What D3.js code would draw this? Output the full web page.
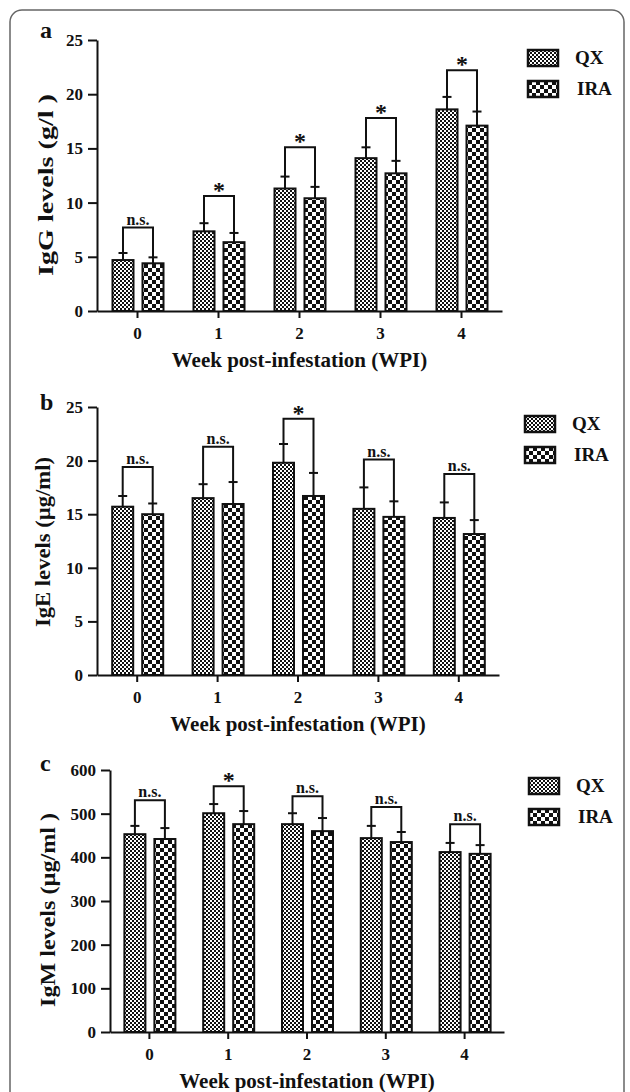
<!DOCTYPE html>
<html>
<head>
    <title>Immunoglobulin levels, QX vs IRA</title>
    <style>
        body { margin: 0; background: #fff; }
        svg text { font-family: "Liberation Serif", "Times New Roman", serif; font-weight: bold; fill: #111; }
        .axis path, .axis line { stroke: #111; stroke-width: 2; }
        .axis text { font-size: 17px; }
    </style>
</head>
<body>
    <div id="chart"></div>

    <script src="https://d3js.org/d3.v7.min.js"></script>
    <script>
        // weeks and groups
        var weeks = ["0", "1", "2", "3", "4"];
        var groups = ["QX", "IRA"];

        // a: IgG (g/l)
        var iggQX = [4.7, 7.35, 11.3, 14.1, 18.6];
        var iggQXsd = [0.65, 0.75, 1.1, 1.0, 1.15];
        var iggIRA = [4.4, 6.35, 10.4, 12.7, 17.1];
        var iggIRAsd = [0.55, 0.85, 1.05, 1.15, 1.3];
        var iggSig = ["n.s.", "*", "*", "*", "*"];
        var iggBracket = [7.7, 10.6, 15.1, 17.8, 22.2];
        var iggTicks = [0, 5, 10, 15, 20, 25];

        // b: IgE (µg/ml)
        var igeQX = [15.7, 16.5, 19.8, 15.5, 14.65];
        var igeQXsd = [1.0, 1.3, 1.75, 2.0, 1.45];
        var igeIRA = [15.0, 15.95, 16.7, 14.75, 13.15];
        var igeIRAsd = [1.0, 2.05, 2.15, 1.45, 1.3];
        var igeSig = ["n.s.", "n.s.", "*", "n.s.", "n.s."];
        var igeBracket = [19.4, 21.3, 23.9, 20.1, 18.75];
        var igeTicks = [0, 5, 10, 15, 20, 25];

        // c: IgM (µg/ml)
        var igmQX = [453, 501, 476, 444, 412];
        var igmQXsd = [19, 21, 25, 28, 21];
        var igmIRA = [442, 476, 460, 435, 408];
        var igmIRAsd = [25, 30, 30, 23, 20];
        var igmSig = ["n.s.", "*", "n.s.", "n.s.", "n.s."];
        var igmBracket = [531, 563, 540, 515, 476];
        var igmTicks = [0, 100, 200, 300, 400, 500, 600];

        var width = 630, height = 1092;

        var svg = d3.select("#chart").append("svg")
            .attr("width", width)
            .attr("height", height);

        // fill patterns
        var defs = svg.append("defs");
        var fine = defs.append("pattern")
            .attr("id", "pat-QX")
            .attr("patternUnits", "userSpaceOnUse")
            .attr("width", 4).attr("height", 4);
        fine.append("rect").attr("width", 4).attr("height", 4).attr("fill", "#fff");
        fine.append("rect").attr("width", 2).attr("height", 2).attr("fill", "#111");
        fine.append("rect").attr("x", 2).attr("y", 2).attr("width", 2).attr("height", 2).attr("fill", "#111");

        var coarse = defs.append("pattern")
            .attr("id", "pat-IRA")
            .attr("patternUnits", "userSpaceOnUse")
            .attr("width", 8).attr("height", 8);
        coarse.append("rect").attr("width", 8).attr("height", 8).attr("fill", "#fff");
        coarse.append("rect").attr("width", 4).attr("height", 4).attr("fill", "#111");
        coarse.append("rect").attr("x", 4).attr("y", 4).attr("width", 4).attr("height", 4).attr("fill", "#111");

        // frame
        svg.append("rect")
            .attr("x", 10).attr("y", 10)
            .attr("width", 614).attr("height", 1110)
            .attr("rx", 12)
            .attr("fill", "none")
            .attr("stroke", "#666")
            .attr("stroke-width", 1.5);

        var panels = [
            { letter: "a", title: "IgG levels (g/l )", qx: iggQX, qxsd: iggQXsd, ira: iggIRA, irasd: iggIRAsd,
              sig: iggSig, bracket: iggBracket, ticks: iggTicks,
              left: 97, right: 502, top: 40, bottom: 311, titleX: 53, titleY: 185, titleLen: 182,
              letterY: 38, legendX: 528, legendY: 50 },
            { letter: "b", title: "IgE levels (\u00b5g/ml)", qx: igeQX, qxsd: igeQXsd, ira: igeIRA, irasd: igeIRAsd,
              sig: igeSig, bracket: igeBracket, ticks: igeTicks,
              left: 97, right: 499, top: 407, bottom: 675, titleX: 50, titleY: 542, titleLen: 170,
              letterY: 410, legendX: 525, legendY: 416 },
            { letter: "c", title: "IgM levels (\u00b5g/ml )", qx: igmQX, qxsd: igmQXsd, ira: igmIRA, irasd: igmIRAsd,
              sig: igmSig, bracket: igmBracket, ticks: igmTicks,
              left: 110, right: 504, top: 770, bottom: 1032, titleX: 55, titleY: 910, titleLen: 194,
              letterY: 771, legendX: 529, legendY: 778 }
        ];

        panels.forEach(drawPanel);

        function drawPanel(p) {
            var g = svg.append("g");

            var x = d3.scaleBand().domain(weeks).range([p.left, p.right]);
            var x1 = d3.scaleBand().domain(groups).range([-25, 26]).paddingInner(0.3);
            var y = d3.scaleLinear()
                .domain([0, p.ticks[p.ticks.length - 1]])
                .range([p.bottom, p.top]);

            var rows = [];
            weeks.forEach(function (w, i) {
                rows.push({ week: w, group: "QX", value: p.qx[i], sd: p.qxsd[i] });
                rows.push({ week: w, group: "IRA", value: p.ira[i], sd: p.irasd[i] });
            });

            function cx(d) {
                return x(d.week) + x.bandwidth() / 2 + x1(d.group) + x1.bandwidth() / 2;
            }

            // error bars first so bar outline sits on top
            var err = g.selectAll(".err").data(rows).enter().append("g")
                .attr("class", "err")
                .attr("stroke", "#111")
                .attr("stroke-width", 2);
            err.append("line")
                .attr("x1", cx).attr("x2", cx)
                .attr("y1", function (d) { return y(d.value); })
                .attr("y2", function (d) { return y(d.value + d.sd); });
            err.append("line")
                .attr("x1", function (d) { return cx(d) - 4.5; })
                .attr("x2", function (d) { return cx(d) + 4.5; })
                .attr("y1", function (d) { return y(d.value + d.sd); })
                .attr("y2", function (d) { return y(d.value + d.sd); });

            g.selectAll(".bar").data(rows).enter().append("rect")
                .attr("class", "bar")
                .attr("x", function (d) { return x(d.week) + x.bandwidth() / 2 + x1(d.group); })
                .attr("y", function (d) { return y(d.value); })
                .attr("width", x1.bandwidth())
                .attr("height", function (d) { return y(0) - y(d.value); })
                .attr("fill", function (d) { return "url(#pat-" + d.group + ")"; })
                .attr("stroke", "#111")
                .attr("stroke-width", 2);

            // significance brackets
            weeks.forEach(function (w, i) {
                var a = { week: w, group: "QX" }, b = { week: w, group: "IRA" };
                var yt = y(p.bracket[i]);
                g.append("path")
                    .attr("d", "M" + cx(a) + "," + y(p.qx[i] + p.qxsd[i]) +
                        "V" + yt + "H" + cx(b) + "V" + y(p.ira[i] + p.irasd[i]))
                    .attr("fill", "none")
                    .attr("stroke", "#111")
                    .attr("stroke-width", 2);
                var star = p.sig[i] === "*";
                g.append("text")
                    .attr("x", (cx(a) + cx(b)) / 2)
                    .attr("y", star ? yt + 2 : yt - 3)
                    .attr("text-anchor", "middle")
                    .style("font-size", star ? "24px" : "16px")
                    .text(p.sig[i]);
            });

            // axes
            g.append("g")
                .attr("class", "axis")
                .attr("transform", "translate(" + p.left + ",0)")
                .call(d3.axisLeft(y).tickValues(p.ticks).tickSize(9).tickSizeOuter(0).tickPadding(5));

            g.append("g")
                .attr("class", "axis")
                .attr("transform", "translate(0," + p.bottom + ")")
                .call(d3.axisBottom(x).tickSize(7).tickSizeOuter(0).tickPadding(9));

            // titles
            g.append("text")
                .attr("x", (p.left + p.right) / 2)
                .attr("y", p.bottom + 56)
                .attr("text-anchor", "middle")
                .style("font-size", "21px")
                .text("Week post-infestation (WPI)");

            g.append("text")
                .attr("transform", "translate(" + p.titleX + "," + p.titleY + ") rotate(-90)")
                .attr("text-anchor", "middle")
                .attr("textLength", p.titleLen)
                .attr("lengthAdjust", "spacingAndGlyphs")
                .style("font-size", "21px")
                .text(p.title);

            g.append("text")
                .attr("x", 40)
                .attr("y", p.letterY)
                .style("font-size", "24px")
                .text(p.letter);

            // legend
            var leg = g.selectAll(".leg").data(groups).enter().append("g")
                .attr("class", "leg")
                .attr("transform", function (d, i) {
                    return "translate(" + p.legendX + "," + (p.legendY + i * 31) + ")";
                });
            leg.append("rect")
                .attr("width", 30).attr("height", 16)
                .attr("fill", function (d) { return "url(#pat-" + d + ")"; })
                .attr("stroke", "#111")
                .attr("stroke-width", 2.5);
            leg.append("text")
                .attr("x", function (d) { return d === "QX" ? 47 : 49; })
                .attr("y", 14)
                .style("font-size", "19px")
                .text(function (d) { return d; });
        }
    </script>
</body>
</html>
